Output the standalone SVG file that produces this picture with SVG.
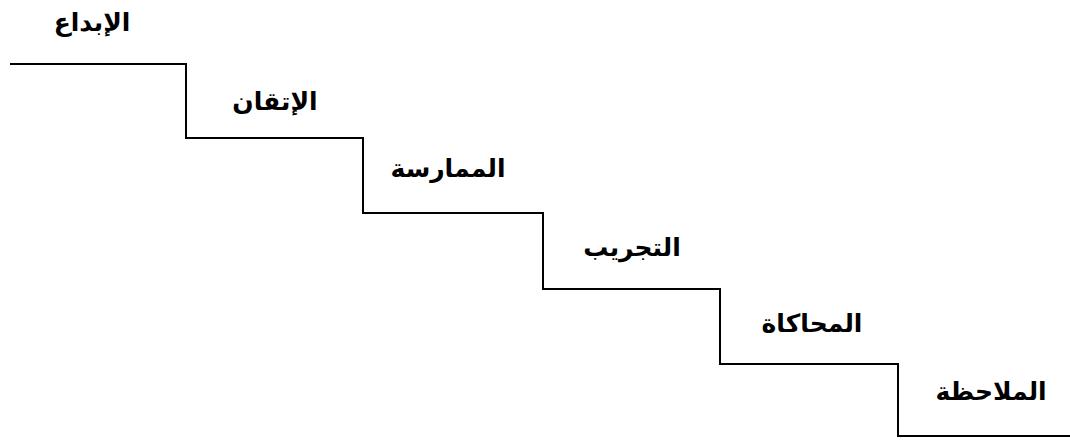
<svg xmlns="http://www.w3.org/2000/svg" width="1070" height="441" viewBox="0 0 1070 441">
<style>
.lbl{font-family:"Liberation Sans","DejaVu Sans",sans-serif;font-size:25px;font-weight:bold;fill:#000;text-anchor:middle;dominant-baseline:central}
.stair{fill:none;stroke:#000;stroke-width:2}
</style>
<rect width="1070" height="441" fill="#fff"/>
<g id="connectors">
<path class="stair" d="M10,64 H186 V138 H363 V213 H543 V289 H720 V364 H898 V436 H1070"/>
</g>
<g id="step1"><text class="lbl" x="92" y="22" direction="rtl">الإبداع</text></g>
<g id="step2"><text class="lbl" x="275" y="101" direction="rtl">الإتقان</text></g>
<g id="step3"><text class="lbl" x="448" y="168" direction="rtl">الممارسة</text></g>
<g id="step4"><text class="lbl" x="632" y="247" direction="rtl">التجريب</text></g>
<g id="step5"><text class="lbl" x="812" y="323" direction="rtl">المحاكاة</text></g>
<g id="step6"><text class="lbl" x="991" y="391" direction="rtl">الملاحظة</text></g>
</svg>
